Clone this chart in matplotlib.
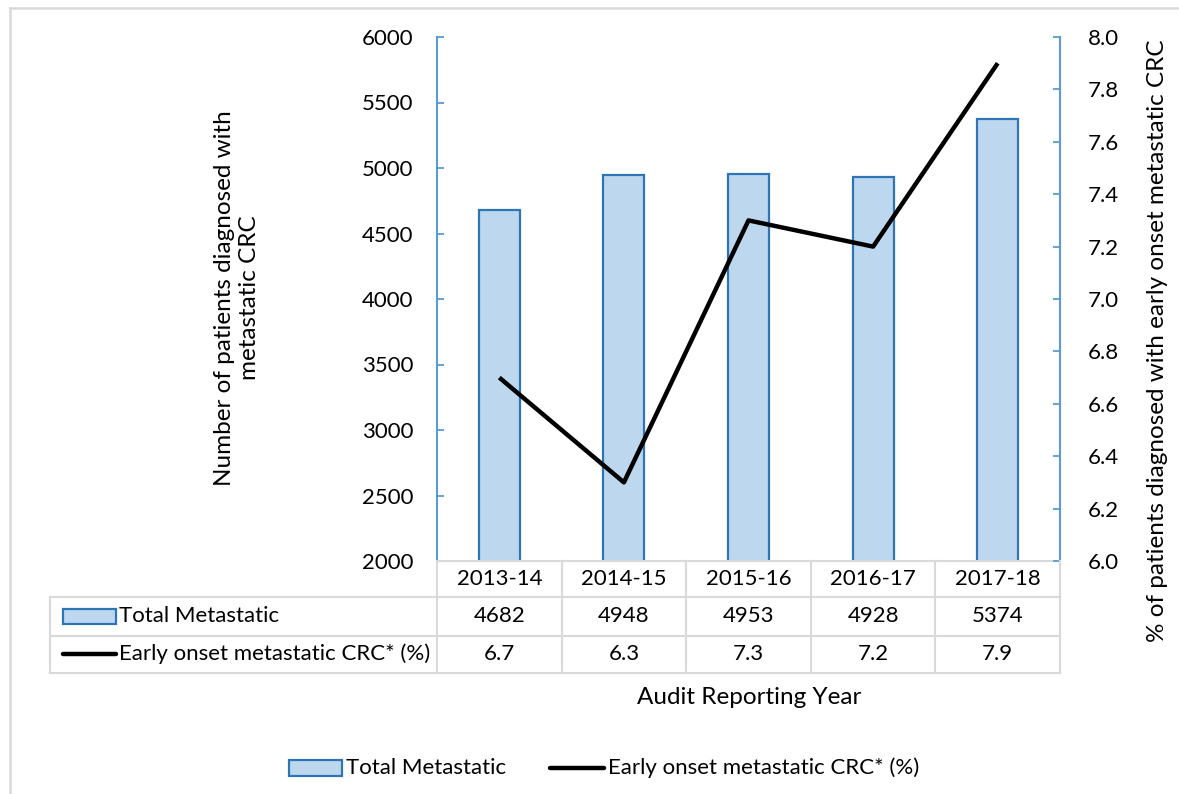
import matplotlib
matplotlib.use("Agg")
import matplotlib.pyplot as plt
from matplotlib.transforms import blended_transform_factory
from matplotlib.patches import Rectangle
from matplotlib.lines import Line2D

years = ["2013-14", "2014-15", "2015-16", "2016-17", "2017-18"]
total_metastatic = [4682, 4948, 4953, 4928, 5374]
early_onset_pct = [6.7, 6.3, 7.3, 7.2, 7.9]
bar_label = "Total Metastatic"
line_label = "Early onset metastatic CRC* (%)"

plt.rcParams['font.family'] = ['Lato', 'DejaVu Sans']
FS = 16
FT = 17.5

W, H = 1179, 794
fig = plt.figure(figsize=(W / 100, H / 100), dpi=100)

def fx(x):
    return x / W

def fy(y):
    return 1 - y / H

BLUE = "#5B9BD5"
BAR_FILL = "#BDD7EE"
BAR_EDGE = "#2E75B6"
GRID = "#D9D9D9"

L, R, T, B = 437, 1060, 37, 561
ax = fig.add_axes([fx(L), fy(B), fx(R) - fx(L), fy(T) - fy(B)])
x = list(range(len(years)))
ax.bar(x, total_metastatic, width=0.33, color=BAR_FILL, edgecolor=BAR_EDGE,
       linewidth=1.6, zorder=2)
ax.set_xlim(-0.5, len(years) - 0.5)
ax.set_ylim(2000, 6000)
ax.set_yticks(range(2000, 6001, 500))
ax.set_xticks([])
ax.tick_params(axis='y', direction='in', length=5, width=1.3, color=BLUE,
               labelsize=FS, pad=17)
for s in ['top', 'right']:
    ax.spines[s].set_visible(False)
ax.spines['left'].set_color(BLUE)
ax.spines['left'].set_linewidth(1.5)
ax.spines['bottom'].set_color(GRID)
ax.spines['bottom'].set_linewidth(1.5)

ax2 = ax.twinx()
ax2.plot(x, early_onset_pct, color='black', linewidth=3.2, solid_capstyle='butt',
         zorder=3)
ax2.set_ylim(6.0, 8.0)
ax2.set_yticks([6.0 + 0.2 * i for i in range(11)])
ax2.set_yticklabels([f"{6.0 + 0.2 * i:.1f}" for i in range(11)])
ax2.tick_params(axis='y', direction='in', length=5, width=1.3, color=BLUE,
                labelsize=FS, pad=20)
for s in ['top', 'left', 'bottom']:
    ax2.spines[s].set_visible(False)
ax2.spines['right'].set_color(BLUE)
ax2.spines['right'].set_linewidth(1.5)

# Data table below the plot
tr = blended_transform_factory(ax.transData, fig.transFigure)
TL = 50
rows_y = [561, 597, 636, 673]
for k in range(len(years) + 1):
    xx = k - 0.5
    fig.add_artist(Line2D([xx, xx], [fy(rows_y[0]), fy(rows_y[-1])], transform=tr,
                          color=GRID, linewidth=1.5))
fig.add_artist(Line2D([fx(TL), fx(TL)], [fy(rows_y[1]), fy(rows_y[-1])],
                      transform=fig.transFigure, color=GRID, linewidth=1.5))
for yy in rows_y[1:]:
    fig.add_artist(Line2D([fx(TL), fx(R)], [fy(yy), fy(yy)],
                          transform=fig.transFigure, color=GRID, linewidth=1.5))

for i, yr in enumerate(years):
    fig.text(i, fy(579), yr, transform=tr, ha='center', va='center', fontsize=FS)
    fig.text(i, fy(616), str(total_metastatic[i]), transform=tr, ha='center',
             va='center', fontsize=FS)
    fig.text(i, fy(654), f"{early_onset_pct[i]:.1f}", transform=tr, ha='center',
             va='center', fontsize=FS)

# row label keys
fig.add_artist(Rectangle((fx(63), fy(624)), fx(116) - fx(63), fy(609) - fy(624),
                         transform=fig.transFigure, facecolor=BAR_FILL,
                         edgecolor=BAR_EDGE, linewidth=1.6))
fig.text(fx(119), fy(616), bar_label, ha='left', va='center', fontsize=FS)
fig.add_artist(Line2D([fx(63), fx(116)], [fy(654), fy(654)],
                      transform=fig.transFigure, color='black', linewidth=3.2,
                      solid_capstyle='round'))
fig.text(fx(119), fy(654), line_label, ha='left', va='center', fontsize=FS)

# axis titles
fig.text(fx(237), fy(298), "Number of patients diagnosed with\nmetastatic CRC",
         rotation=90, ha='center', va='center', fontsize=FT, linespacing=1.25)
fig.text(fx(1157), fy(341), "% of patients diagnosed with early onset metastatic CRC",
         rotation=90, ha='center', va='center', fontsize=FT)
fig.text(fx(749), fy(697), "Audit Reporting Year", ha='center', va='center',
         fontsize=FT)

# bottom legend
fig.add_artist(Rectangle((fx(289), fy(776)), fx(342) - fx(289), fy(760) - fy(776),
                         transform=fig.transFigure, facecolor=BAR_FILL,
                         edgecolor=BAR_EDGE, linewidth=1.6))
fig.text(fx(346), fy(768), bar_label, ha='left', va='center', fontsize=FS)
fig.add_artist(Line2D([fx(550), fx(604)], [fy(768), fy(768)],
                      transform=fig.transFigure, color='black', linewidth=3.2,
                      solid_capstyle='round'))
fig.text(fx(608), fy(768), line_label, ha='left', va='center', fontsize=FS)

# outer chart frame (partially visible)
fig.add_artist(Line2D([fx(10), fx(10)], [fy(8), 0], transform=fig.transFigure,
                      color=GRID, linewidth=1.8))
fig.add_artist(Line2D([fx(10), 1], [fy(8), fy(8)], transform=fig.transFigure,
                      color=GRID, linewidth=1.8))

fig.savefig("out.png", dpi=100)
